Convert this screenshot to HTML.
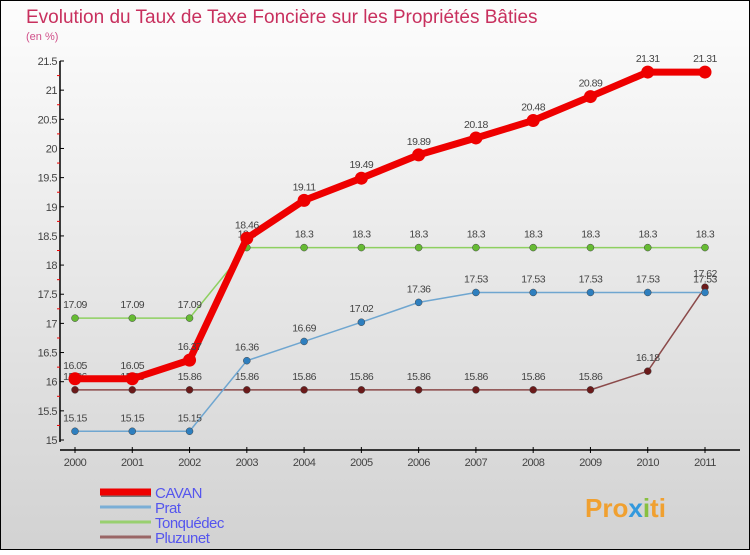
<!DOCTYPE html>
<html><head><meta charset="utf-8"><style>
html,body{margin:0;padding:0}
body{width:750px;height:550px;overflow:hidden;font-family:"Liberation Sans",sans-serif}
</style></head><body>
<svg id="chart" width="750" height="550" xmlns="http://www.w3.org/2000/svg">
<defs><linearGradient id="bg" x1="0" y1="0" x2="0" y2="1"><stop offset="0" stop-color="#fdfdfd"/><stop offset="1" stop-color="#d2d2d2"/></linearGradient></defs>
<rect x="0.5" y="0.5" width="749" height="549" fill="url(#bg)" stroke="#000"/>
<text x="26" y="23" font-size="19" fill="#c8305e">Evolution du Taux de Taxe Foncière sur les Propriétés Bâties</text>
<text x="26" y="40" font-size="11" fill="#d0508a">(en %)</text>
<g id="axes"></g><g id="series"></g><g id="legend"></g>
<text x="585" y="517" font-size="26" font-weight="bold" fill="#f0a030">Pro<tspan fill="#3399dd">x</tspan><tspan fill="#88c040">i</tspan><tspan fill="#f0a030">ti</tspan></text>
</svg>
<script>
const years=[2000,2001,2002,2003,2004,2005,2006,2007,2008,2009,2010,2011];
const yTicks=[15,15.5,16,16.5,17,17.5,18,18.5,19,19.5,20,20.5,21,21.5];
const cavan=[16.05,16.05,16.37,18.46,19.11,19.49,19.89,20.18,20.48,20.89,21.31,21.31];
const prat=[15.15,15.15,15.15,16.36,16.69,17.02,17.36,17.53,17.53,17.53,17.53,17.53];
const tonquedec=[17.09,17.09,17.09,18.3,18.3,18.3,18.3,18.3,18.3,18.3,18.3,18.3];
const pluzunet=[15.86,15.86,15.86,15.86,15.86,15.86,15.86,15.86,15.86,15.86,16.18,17.62];
const names=["CAVAN","Prat","Tonquédec","Pluzunet"];
const NS="http://www.w3.org/2000/svg";
const xs=i=>75+i*(705-75)/11;
const ys=v=>440-(v-15)*(440-61)/6.5;
function mk(p,t,a){const e=document.createElementNS(NS,t);for(const k in a)e.setAttribute(k,a[k]);p.appendChild(e);return e;}
const ax=document.getElementById('axes');
let yl=mk(ax,'line',{x1:60,y1:61,x2:60,y2:442,stroke:'#000','stroke-width':1.5});


let xl=mk(ax,'line',{x1:60,y1:450,x2:740,y2:450,stroke:'#000','stroke-width':1.5});


yTicks.forEach((v,k)=>{const y=ys(v);
 mk(ax,'line',{x1:60,y1:y,x2:64,y2:y,stroke:'#000'});
 if(k>0)mk(ax,'line',{x1:57,y1:y+14.6,x2:60,y2:y+14.6,stroke:'#e00'});
 const t=mk(ax,'text',{x:57,y:y+4,'font-size':11,fill:'#444','text-anchor':'end','letter-spacing':'-0.5'});
 t.textContent=String(v);
 
 });
years.forEach((yr,i)=>{const x=xs(i);
 mk(ax,'line',{x1:x,y1:447,x2:x,y2:453,stroke:'#000'});
 const t=mk(ax,'text',{x:x,y:466,'font-size':11,fill:'#444','text-anchor':'middle','letter-spacing':'-0.5'});
 t.textContent=String(yr);
 
 });
const sg=document.getElementById('series');
const defs=[[pluzunet,'#8b4a4a','#6b1a1a',1.5,3.5,'pluzunet'],[prat,'#6fa6d0','#2e7fbf',1.5,3.5,'prat'],[tonquedec,'#8ed060','#66bb33',1.5,3.5,'tonquedec'],[cavan,'#ee0000','#ee0000',7,6.5,'cavan']];
defs.forEach(([d,lc,mc,w,r,n])=>{
 const g=mk(sg,'g',{});
 
 
 const pl=mk(g,'polyline',{points:d.map((v,i)=>xs(i)+','+ys(v)).join(' '),fill:'none',stroke:lc,'stroke-width':w,'stroke-linejoin':'round'});
 
 
 d.forEach((v,i)=>{
  const c=mk(g,'circle',{cx:xs(i),cy:ys(v),r:r,fill:mc,stroke:n==='cavan'?'none':'#444','stroke-width':0.5});
  
  
  const t=mk(g,'text',{x:xs(i),y:ys(v)-10,'font-size':10.5,fill:'#444','text-anchor':'middle','letter-spacing':'-0.5'});
  t.textContent=String(v);
  
  });
});
const lg=document.getElementById('legend');
const lcols=['#ee0000','#7aaed6','#99d070','#9a6666'],lw=[7,3,3,3];
names.forEach((nm,i)=>{const y=492+i*15;
 const g=mk(lg,'g',{});
 
 
 if(i===0)mk(g,'rect',{x:101,y:y-2,width:50,height:7,fill:'#777'});
 mk(g,'line',{x1:100,y1:y,x2:151,y2:y,stroke:lcols[i],'stroke-width':lw[i]});
 const t=mk(g,'text',{x:155,y:y+6,'font-size':15,fill:'#5555ee','letter-spacing':'-0.5'});
 t.textContent=nm;});
</script>
</body></html>
